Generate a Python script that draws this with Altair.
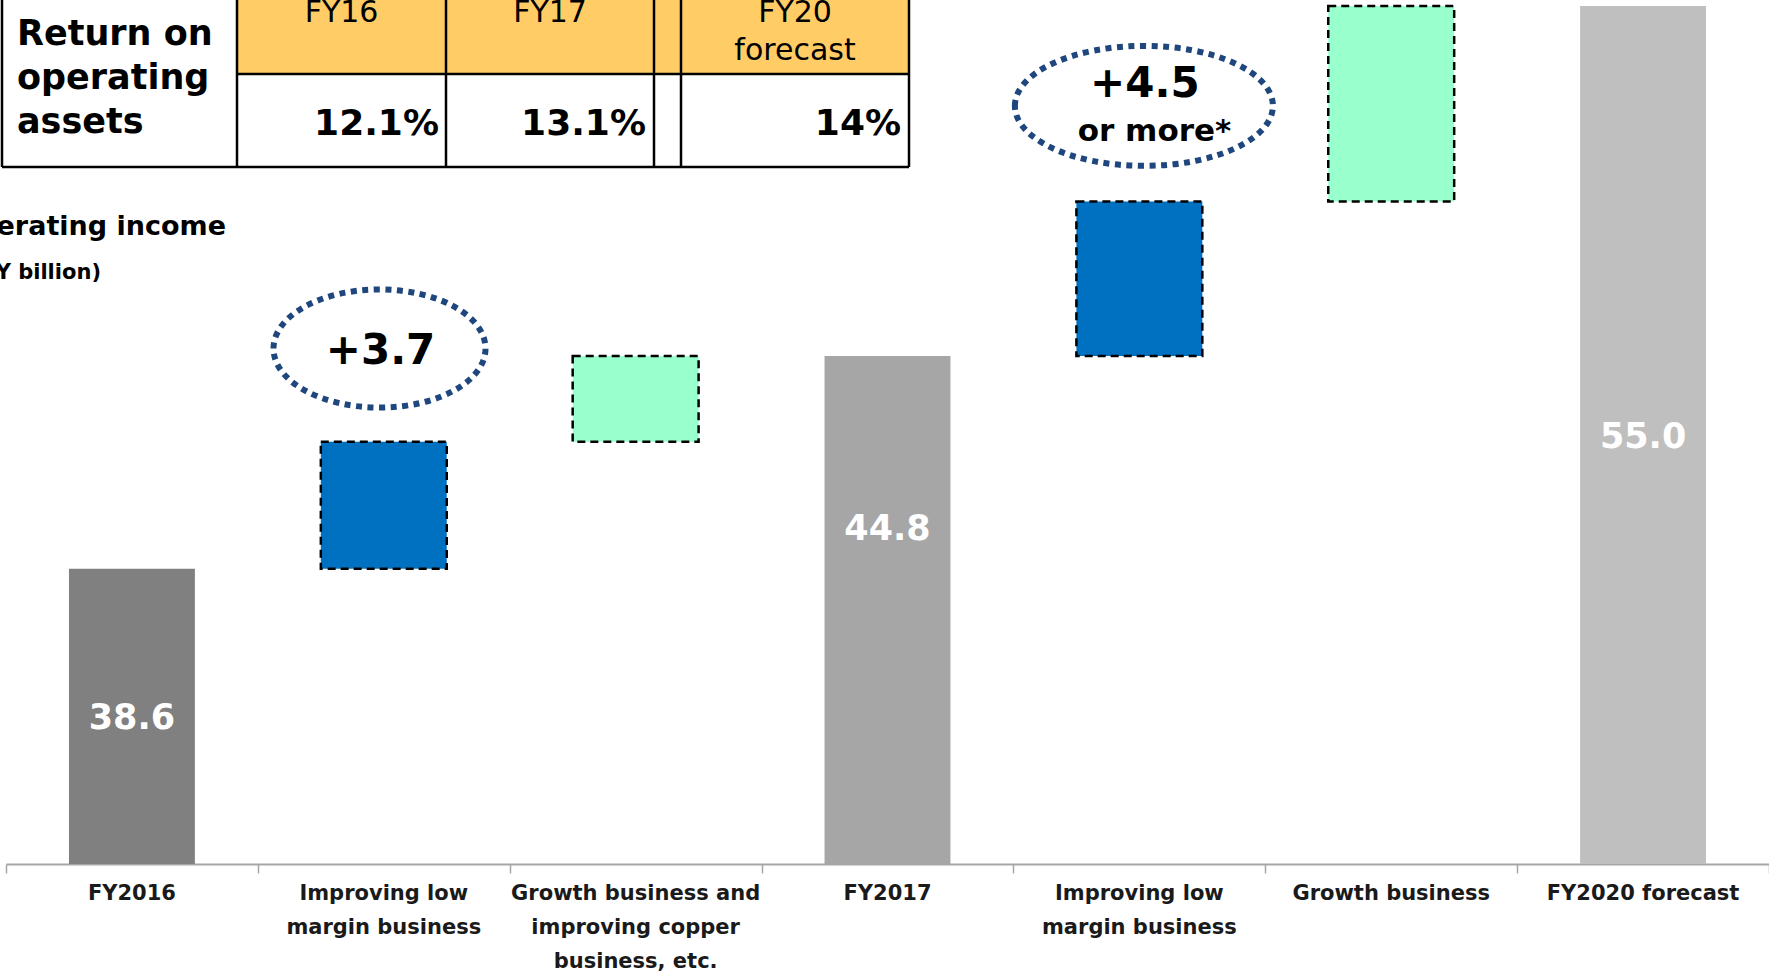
import altair as alt
import pandas as pd

# ---------------- data ----------------
categories = ["FY2016", "Improving low\nmargin business",
              "Growth business and\nimproving copper\nbusiness, etc.",
              "FY2017", "Improving low\nmargin business", "Growth business",
              "FY2020 forecast"]
kinds = ["total", "step", "step", "total", "step", "step", "total"]
amounts = [38.6, 3.7, 2.5, 44.8, 4.5, 5.7, 55.0]
fills = ["#808080", "#0070C0", "#99FFCC", "#A6A6A6", "#0070C0", "#99FFCC", "#BFBFBF"]

total_labels = ["38.6", "44.8", "55.0"]
total_label_at = [34.25, 39.75, 42.45]

bubble_main = ["+3.7", "+4.5"]
bubble_sub = ["", "or more*"]

roa_title = "Return on\noperating\nassets"
roa_years = ["FY16", "FY17", "FY20\nforecast"]
roa_values = ["12.1%", "13.1%", "14%"]

axis_title = "Operating income"
axis_unit = "(JPY billion)"

# ---------------- layout / style ----------------
FONT = "DejaVu Sans"
AXIS_BASE, AXIS_TOP = 30, 55
PAD_L, PAD_T, PAD_B = 6, 6, 108
W, H = 1763, 858
BAR_FRAC = 0.5

# waterfall table
rows = []
running = 0.0
for i, (c, k, a, f) in enumerate(zip(categories, kinds, amounts, fills)):
    if k == "total":
        lo, hi = AXIS_BASE, a
        running = a
    else:
        lo, hi = running, running + a
        running = hi
    rows.append({"cat": c, "kind": k, "lo": lo, "hi": hi, "fill": f,
                 "x0": i + (1 - BAR_FRAC) / 2, "x1": i + (1 + BAR_FRAC) / 2,
                 "xc": i + 0.5})
df = pd.DataFrame(rows)
totals = df[df.kind == "total"].copy()
totals["label"] = total_labels
totals["at"] = total_label_at

xscale = alt.Scale(domain=[0, len(categories)], nice=False, zero=False)
yscale = alt.Scale(domain=[AXIS_BASE, AXIS_TOP], nice=False, zero=False)

base = alt.Chart(df)

solid = base.transform_filter("datum.kind == 'total'").mark_bar().encode(
    x=alt.X("x0:Q", scale=xscale,
            axis=alt.Axis(values=list(range(len(categories) + 1)), labels=False,
                          ticks=True, tickSize=9, tickColor="#A6A6A6", tickWidth=1.5,
                          domainColor="#A6A6A6", domainWidth=2, grid=False, title=None)),
    x2="x1:Q",
    y=alt.Y("lo:Q", scale=yscale, axis=None),
    y2="hi:Q",
    color=alt.Color("fill:N", scale=None),
)

steps = base.transform_filter("datum.kind == 'step'").mark_bar(
    stroke="black", strokeWidth=2.5, strokeDash=[8, 5]).encode(
    x=alt.X("x0:Q", scale=xscale), x2="x1:Q",
    y=alt.Y("lo:Q", scale=yscale), y2="hi:Q",
    color=alt.Color("fill:N", scale=None),
)

cat_labels = base.mark_text(font=FONT, fontSize=21, fontWeight="bold", color="#1a1a1a",
                            align="center", baseline="alphabetic", lineBreak="\n",
                            lineHeight=34).encode(
    x=alt.X("xc:Q", scale=xscale), y=alt.value(894), text="cat:N")

val_labels = alt.Chart(totals).mark_text(font=FONT, fontSize=35, fontWeight="bold",
                                         color="white", align="center",
                                         baseline="middle").encode(
    x=alt.X("xc:Q", scale=xscale), y=alt.Y("at:Q", scale=yscale), text="label:N")

one = alt.Data(values=[{}])


def txt(text, x, y, size, weight="bold", align="left", baseline="alphabetic", lh=None,
        color="black"):
    kw = dict(text=text, font=FONT, fontSize=size, fontWeight=weight, align=align,
              baseline=baseline, color=color, lineBreak="\n")
    if lh is not None:
        kw["lineHeight"] = lh
    return alt.Chart(one).mark_text(**kw).encode(x=alt.value(x - PAD_L),
                                                 y=alt.value(y - PAD_T))


def rule(x1, y1, x2, y2, w=2.5):
    return alt.Chart(one).mark_rule(color="black", strokeWidth=w).encode(
        x=alt.value(x1 - PAD_L), y=alt.value(y1 - PAD_T),
        x2=alt.value(x2 - PAD_L), y2=alt.value(y2 - PAD_T))


# ---- ROA table (decoration, pixel layout) ----
col_edges = [2, 237, 446, 654, 681, 909]
tab_top, head_bot, tab_bot = -20, 74, 167
layers = []
layers.append(alt.Chart(one).mark_rect(color="#FFCC66").encode(
    x=alt.value(col_edges[1] - PAD_L), x2=alt.value(col_edges[-1] - PAD_L),
    y=alt.value(tab_top - PAD_T), y2=alt.value(head_bot - PAD_T)))
for xe in col_edges:
    layers.append(rule(xe, tab_top, xe, tab_bot))
layers.append(rule(col_edges[1], head_bot, col_edges[-1], head_bot))
layers.append(rule(col_edges[0], tab_bot, col_edges[-1], tab_bot))

layers.append(txt(roa_title, 17, 45, 35, lh=44))
head_centers = [341.5, 550, 795]
val_rights = [439, 646, 901]
for yr, v, cx, rx in zip(roa_years, roa_values, head_centers, val_rights):
    layers.append(txt(yr, cx, 22, 30, weight="normal", align="center", lh=38))
    layers.append(txt(v, rx, 135, 36, align="right"))

layers.append(txt(axis_title, 226, 235, 27, align="right"))
layers.append(txt(axis_unit, 101, 279, 21, align="right"))

# ---- bubbles (dotted ellipses) ----
def ellipse_path(ratio):
    return f"M-1,0A1,{ratio} 0 1,1 1,0A1,{ratio} 0 1,1 -1,0Z"


bubbles = [
    {"x": 1.483, "y": 45.02, "rx": 106, "ry": 59},
    {"x": 4.518, "y": 52.09, "rx": 129, "ry": 60},
]
for b in bubbles:
    layers.append(alt.Chart(one).mark_point(
        shape=ellipse_path(round(b["ry"] / b["rx"], 3)), size=(2 * b["rx"]) ** 2,
        filled=False, stroke="#1F477D", strokeWidth=6, strokeDash=[6, 5.5],
        opacity=1).encode(x=alt.datum(b["x"], scale=xscale),
                          y=alt.datum(b["y"], scale=yscale)))

bubble_text_pos = [(1.487, 44.94, None, None), (4.522, 52.74, 4.56, 51.32)]
for (mx, my, sx, sy), m, s in zip(bubble_text_pos, bubble_main, bubble_sub):
    layers.append(alt.Chart(one).mark_text(text=m, font=FONT, fontSize=42,
                                           fontWeight="bold", color="black",
                                           align="center", baseline="middle").encode(
        x=alt.datum(mx, scale=xscale), y=alt.datum(my, scale=yscale)))
    if s:
        layers.append(alt.Chart(one).mark_text(text=s, font=FONT, fontSize=31,
                                               fontWeight="bold", color="black",
                                               align="center", baseline="middle").encode(
            x=alt.datum(sx, scale=xscale), y=alt.datum(sy, scale=yscale)))

chart = alt.layer(solid, steps, val_labels, cat_labels, *layers).properties(
    width=W, height=H,
    autosize=alt.AutoSizeParams(type="none"),
    padding={"left": PAD_L, "top": PAD_T, "right": 0, "bottom": PAD_B},
    background="white",
).configure_view(stroke=None)

chart.save("out.html", embed_options={"renderer": "svg", "actions": False})
